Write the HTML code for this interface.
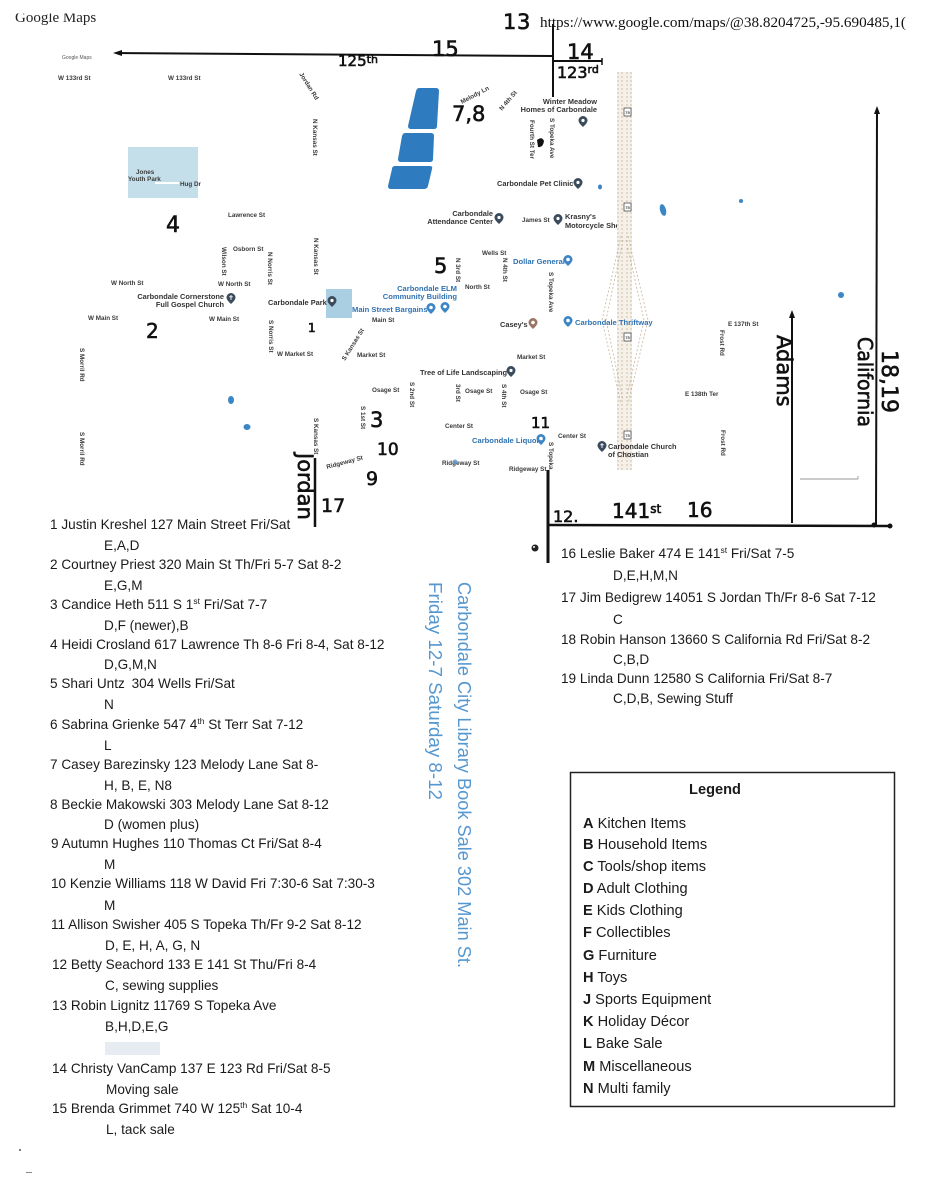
<!DOCTYPE html>
<html><head><meta charset="utf-8"><style>
html,body{margin:0;padding:0;background:#fff;}
svg{display:block;}
.m{font-family:"Liberation Sans",sans-serif;font-size:6.3px;font-weight:bold;fill:#3a3a3a;}
.p{font-family:"Liberation Sans",sans-serif;font-size:7.4px;font-weight:bold;fill:#333;}
.b{font-family:"Liberation Sans",sans-serif;font-size:7.6px;font-weight:bold;fill:#2f72b2;}
.hw{font-family:"DejaVu Sans",sans-serif;fill:#111;stroke:#111;stroke-width:0.6px;}
.l{font-family:"Liberation Sans",sans-serif;font-size:13.6px;fill:#1a1a1a;}
.g{font-family:"Liberation Sans",sans-serif;font-size:14.6px;fill:#1a1a1a;}
.v{font-family:"Liberation Sans",sans-serif;font-size:18.3px;fill:#5597cf;}
</style></head><body>
<svg width="927" height="1200" viewBox="0 0 927 1200" xmlns="http://www.w3.org/2000/svg">
<rect width="927" height="1200" fill="#fff"/>

<!-- header -->
<text x="15" y="22" font-family="Liberation Serif,serif" font-size="15" fill="#222">Google Maps</text>
<rect x="0" y="0" width="120" height="13.5" fill="#fff"/>
<text x="540" y="27" font-family="Liberation Serif,serif" font-size="15" fill="#111" textLength="366" lengthAdjust="spacingAndGlyphs">https://www.google.com/maps/@38.8204725,-95.690485,1(</text>
<text x="503" y="29" class="hw" font-size="21">1</text>
<text x="517" y="29" class="hw" font-size="21">3</text>

<!-- top lines -->
<line x1="116" y1="53" x2="553" y2="56" stroke="#111" stroke-width="2"/>
<polygon points="113,53 122,50 122,56" fill="#111"/>
<line x1="553" y1="24" x2="553" y2="97" stroke="#111" stroke-width="2"/>
<line x1="553" y1="61" x2="602" y2="61" stroke="#111" stroke-width="2"/>
<line x1="602" y1="58" x2="602" y2="65" stroke="#111" stroke-width="1.5"/>
<text x="432" y="56" class="hw" font-size="21">15</text>
<text x="338" y="66" class="hw" font-size="15">125<tspan font-size="11" dy="-3">th</tspan></text>
<text x="567" y="59" class="hw" font-size="21">14</text>
<text x="557" y="78" class="hw" font-size="16">123<tspan font-size="11" dy="-5">rd</tspan></text>

<!-- map labels left/top -->
<text x="62" y="59" font-family="Liberation Sans,sans-serif" font-size="5" fill="#555">Google Maps</text>
<text x="58" y="80" class="m">W 133rd St</text>
<text x="168" y="80" class="m">W 133rd St</text>
<text class="m" font-size="5.5" transform="translate(299,74) rotate(58)">Jordan Rd</text>
<text class="m" font-size="5.8" transform="translate(313,119) rotate(90)">N Kansas St</text>

<!-- blue shapes -->
<path d="M419,88 L436,88 Q439,88 439,91 L437,126 Q437,129 434,129 L411,129 Q408,129 408,126 L416,91 Q417,88 419,88Z" fill="#2f7bbf"/>
<path d="M405,133 L431,133 Q434,133 434,136 L433,159 Q433,162 430,162 L401,162 Q398,162 398,159 L402,136 Q403,133 405,133Z" fill="#2f7bbf"/>
<path d="M395,166 L430,166 Q433,166 432,169 L428,186 Q427,189 424,189 L391,189 Q388,189 388,186 L392,169 Q392,166 395,166Z" fill="#2f7bbf"/>

<!-- Jones Youth Park -->
<rect x="128" y="147" width="70" height="51" fill="#c4dfea"/>
<text x="136" y="174" class="m" font-size="6.8">Jones</text>
<text x="128" y="181" class="m" font-size="6.8">Youth Park</text>
<rect x="155" y="182" width="24" height="2" fill="#fff"/>
<text x="180" y="186" class="m" font-size="5.5">Hug Dr</text>

<text x="166" y="232" class="hw" font-size="22">4</text>
<text x="228" y="217" class="m">Lawrence St</text>
<text x="233" y="251" class="m">Osborn St</text>
<text class="m" font-size="5.8" transform="translate(222,247) rotate(90)">Wilson St</text>
<text class="m" font-size="5.8" transform="translate(268,252) rotate(90)">N Norris St</text>
<text class="m" font-size="5.8" transform="translate(314,238) rotate(90)">N Kansas St</text>
<text x="111" y="285" class="m">W North St</text>
<text x="218" y="286" class="m">W North St</text>
<text x="224" y="299" class="p" text-anchor="end">Carbondale Cornerstone</text>
<text x="224" y="307" class="p" text-anchor="end">Full Gospel Church</text>
<g transform="translate(231,298)"><path d="M0,6 Q-4.5,2 -4.5,-0.5 A4.5,4.5 0 1 1 4.5,-0.5 Q4.5,2 0,6Z" fill="#3a4b5c"/><path d="M0,-3 V2 M-1.8,-1.2 H1.8" stroke="#fff" stroke-width="0.9"/></g>
<text x="88" y="320" class="m">W Main St</text>
<text x="209" y="321" class="m">W Main St</text>
<text x="146" y="338" class="hw" font-size="20">2</text>
<text class="m" font-size="5.8" transform="translate(80,348) rotate(90)">S Morril Rd</text>
<text class="m" font-size="5.8" transform="translate(80,432) rotate(90)">S Morril Rd</text>
<ellipse cx="231" cy="400" rx="3" ry="4" fill="#3b86c4"/>
<ellipse cx="247" cy="427" rx="3.5" ry="3" fill="#3b86c4"/>

<!-- Carbondale park -->
<rect x="326" y="289" width="26" height="29" fill="#aacfe2"/>
<text x="268" y="305" class="p" font-size="7.6">Carbondale Park</text>
<g transform="translate(332,301)"><path d="M0,6 Q-4.5,2 -4.5,-0.5 A4.5,4.5 0 1 1 4.5,-0.5 Q4.5,2 0,6Z" fill="#3a4b5c"/><circle cy="-0.5" r="1.6" fill="#fff"/></g>
<text class="m" font-size="5.8" transform="translate(269,320) rotate(90)">S Norris St</text>
<text x="308" y="332" class="hw" font-size="12">1</text>
<text x="277" y="356" class="m">W Market St</text>
<text class="m" font-size="5.8" transform="translate(345,361) rotate(-58)">S Kansas St</text>
<text x="357" y="357" class="m">Market St</text>
<text x="372" y="322" class="m">Main St</text>

<text x="457" y="291" class="b" text-anchor="end">Carbondale ELM</text>
<text x="457" y="299" class="b" text-anchor="end">Community Building</text>
<text x="352" y="312" class="b">Main Street Bargains</text>
<g transform="translate(431,308)"><path d="M0,6 Q-4.5,2 -4.5,-0.5 A4.5,4.5 0 1 1 4.5,-0.5 Q4.5,2 0,6Z" fill="#3d86c6"/><circle cy="-0.5" r="1.8" fill="#fff"/></g>
<g transform="translate(445,307)"><path d="M0,6 Q-4.5,2 -4.5,-0.5 A4.5,4.5 0 1 1 4.5,-0.5 Q4.5,2 0,6Z" fill="#3d86c6"/><circle cy="-0.5" r="1.8" fill="#fff"/></g>

<text x="434" y="273" class="hw" font-size="21">5</text>
<text class="m" font-size="5.8" transform="translate(456,258) rotate(90)">N 3rd St</text>
<text x="482" y="255" class="m">Wells St</text>
<text class="m" font-size="5.8" transform="translate(503,258) rotate(90)">N 4th St</text>
<text x="465" y="289" class="m">North St</text>
<text x="513" y="264" class="b">Dollar General</text>
<g transform="translate(568,260)"><path d="M0,6 Q-4.5,2 -4.5,-0.5 A4.5,4.5 0 1 1 4.5,-0.5 Q4.5,2 0,6Z" fill="#3d86c6"/><circle cy="-0.5" r="1.8" fill="#fff"/></g>
<text class="m" font-size="5.8" transform="translate(549,272) rotate(90)">S Topeka Ave</text>
<text x="500" y="327" class="p" font-size="7.2">Casey's</text>
<g transform="translate(533,323)"><path d="M0,6 Q-4.5,2 -4.5,-0.5 A4.5,4.5 0 1 1 4.5,-0.5 Q4.5,2 0,6Z" fill="#9a7565"/><circle cy="-0.5" r="1.8" fill="#fff"/></g>

<!-- top right POIs -->
<text class="m" font-size="5.2" transform="translate(462,104) rotate(-28)">Melody Ln</text>
<text x="452" y="121" class="hw" font-size="21">7,8</text>
<text class="m" font-size="5.2" transform="translate(502,111) rotate(-50)">N 4th St</text>
<text x="597" y="104" class="p" text-anchor="end" font-size="7">Winter Meadow</text>
<text x="597" y="112" class="p" text-anchor="end" font-size="7">Homes of Carbondale</text>
<g transform="translate(583,121)"><path d="M0,6 Q-4.5,2 -4.5,-0.5 A4.5,4.5 0 1 1 4.5,-0.5 Q4.5,2 0,6Z" fill="#3a4b5c"/><circle cy="-0.5" r="1.6" fill="#fff"/></g>
<text class="m" font-size="5.6" transform="translate(550,118) rotate(90)">S Topeka Ave</text>
<text class="m" font-size="5.6" transform="translate(530,120) rotate(90)">Fourth St Ter</text>
<path d="M537,140 Q542,136 544,141 Q543,148 538,147 Z" fill="#111"/>
<text x="497" y="186" class="p" font-size="7">Carbondale Pet Clinic</text>
<g transform="translate(578,183)"><path d="M0,6 Q-4.5,2 -4.5,-0.5 A4.5,4.5 0 1 1 4.5,-0.5 Q4.5,2 0,6Z" fill="#3a4b5c"/><circle cy="-0.5" r="1.6" fill="#fff"/></g>
<ellipse cx="600" cy="187" rx="2" ry="2.5" fill="#3b86c4"/>
<ellipse cx="663" cy="210" rx="3" ry="6" fill="#3b86c4" transform="rotate(-15 663 210)"/>
<ellipse cx="741" cy="201" rx="2" ry="2" fill="#3b86c4"/>
<text x="493" y="216" class="p" text-anchor="end" font-size="7">Carbondale</text>
<text x="493" y="224" class="p" text-anchor="end" font-size="7">Attendance Center</text>
<g transform="translate(499,218)"><path d="M0,6 Q-4.5,2 -4.5,-0.5 A4.5,4.5 0 1 1 4.5,-0.5 Q4.5,2 0,6Z" fill="#3a4b5c"/><circle cy="-0.5" r="1.6" fill="#fff"/></g>
<text x="522" y="222" class="m" font-size="6">James St</text>
<g transform="translate(558,219)"><path d="M0,6 Q-4.5,2 -4.5,-0.5 A4.5,4.5 0 1 1 4.5,-0.5 Q4.5,2 0,6Z" fill="#3a4b5c"/><circle cy="-0.5" r="1.6" fill="#fff"/></g>
<text x="565" y="219" class="p" font-size="7">Krasny's</text>
<text x="565" y="228" class="p" font-size="7">Motorcycle Shop</text>

<!-- highway -->
<rect x="617" y="72" width="15" height="398" fill="#f5f0e8"/>
<g stroke="#c7b59e" stroke-width="0.8" stroke-dasharray="2,2" fill="none">
<line x1="618" y1="72" x2="618" y2="470"/><line x1="622" y1="72" x2="622" y2="470"/>
<line x1="627" y1="72" x2="627" y2="470"/><line x1="631" y1="72" x2="631" y2="470"/>
<polyline points="621,236 602,320 621,404"/><polyline points="623,240 606,320 623,400"/>
<polyline points="628,236 648,320 628,404"/><polyline points="626,240 644,320 626,400"/>
</g>
<g font-family="Liberation Sans,sans-serif" font-size="4" font-weight="bold" fill="#333" text-anchor="middle">
<rect x="624" y="108" width="7" height="8" fill="#fff" stroke="#333" stroke-width="0.7"/><text x="627.5" y="114">75</text>
<rect x="624" y="203" width="7" height="8" fill="#fff" stroke="#333" stroke-width="0.7"/><text x="627.5" y="209">75</text>
<rect x="624" y="333" width="7" height="8" fill="#fff" stroke="#333" stroke-width="0.7"/><text x="627.5" y="339">75</text>
<rect x="624" y="431" width="7" height="8" fill="#fff" stroke="#333" stroke-width="0.7"/><text x="627.5" y="437">75</text>
</g>
<g transform="translate(568,321)"><path d="M0,6 Q-4.5,2 -4.5,-0.5 A4.5,4.5 0 1 1 4.5,-0.5 Q4.5,2 0,6Z" fill="#3d86c6"/><circle cy="-0.5" r="1.8" fill="#fff"/></g>
<text x="575" y="325" class="b">Carbondale Thriftway</text>

<text x="728" y="326" class="m">E 137th St</text>
<text class="m" font-size="5.8" transform="translate(720,330) rotate(90)">Frost Rd</text>
<text x="517" y="359" class="m">Market St</text>
<text x="420" y="375" class="p" font-size="7.2">Tree of Life Landscaping</text>
<g transform="translate(511,371)"><path d="M0,6 Q-4.5,2 -4.5,-0.5 A4.5,4.5 0 1 1 4.5,-0.5 Q4.5,2 0,6Z" fill="#3a4b5c"/><circle cy="-0.5" r="1.6" fill="#fff"/></g>
<text x="372" y="392" class="m">Osage St</text>
<text class="m" font-size="5.8" transform="translate(410,382) rotate(90)">S 2nd St</text>
<text class="m" font-size="5.8" transform="translate(456,384) rotate(90)">3rd St</text>
<text x="465" y="393" class="m">Osage St</text>
<text class="m" font-size="5.8" transform="translate(502,384) rotate(90)">S 4th St</text>
<text x="520" y="394" class="m">Osage St</text>
<text x="685" y="396" class="m">E 138th Ter</text>
<text class="m" font-size="5.8" transform="translate(361,406) rotate(90)">S 1st St</text>
<text x="370" y="427" class="hw" font-size="21">3</text>
<text class="m" font-size="5.8" transform="translate(314,418) rotate(90)">S Kansas St</text>
<text x="445" y="428" class="m">Center St</text>
<text x="531" y="428" class="hw" font-size="15">11</text>
<text x="472" y="443" class="b">Carbondale Liquor</text>
<g transform="translate(541,439)"><path d="M0,6 Q-4.5,2 -4.5,-0.5 A4.5,4.5 0 1 1 4.5,-0.5 Q4.5,2 0,6Z" fill="#3d86c6"/><circle cy="-0.5" r="1.8" fill="#fff"/></g>
<text x="558" y="438" class="m">Center St</text>
<text class="m" font-size="5.8" transform="translate(549,442) rotate(90)">S Topeka</text>
<g transform="translate(602,446)"><path d="M0,6 Q-4.5,2 -4.5,-0.5 A4.5,4.5 0 1 1 4.5,-0.5 Q4.5,2 0,6Z" fill="#3a4b5c"/><path d="M0,-3 V2 M-1.8,-1.2 H1.8" stroke="#fff" stroke-width="0.9"/></g>
<text x="608" y="449" class="p" font-size="7">Carbondale Church</text>
<text x="608" y="457" class="p" font-size="7">of Chostian</text>
<text class="m" font-size="5.8" transform="translate(721,430) rotate(90)">Frost Rd</text>
<text x="377" y="455" class="hw" font-size="17">10</text>
<text x="442" y="465" class="m">Ridgeway St</text>
<circle cx="455" cy="462" r="2.5" fill="#5a93c4" opacity="0.8"/>
<text x="509" y="471" class="m">Ridgeway St</text>
<text class="m" font-size="5.6" transform="translate(327,469) rotate(-15)">Ridgeway St</text>
<text x="366" y="485" class="hw" font-size="19">9</text>
<ellipse cx="841" cy="295" rx="3" ry="3" fill="#3b86c4"/>
<line x1="800" y1="479" x2="858" y2="479" stroke="#777" stroke-width="0.7"/>
<line x1="858" y1="476" x2="858" y2="479" stroke="#777" stroke-width="0.7"/>

<!-- hand-drawn roads right/bottom -->
<line x1="315" y1="458" x2="315" y2="527" stroke="#111" stroke-width="2.5"/>
<text class="hw" font-size="21" transform="translate(298,453) rotate(90)">Jordan</text>
<text x="321" y="512" class="hw" font-size="19">17</text>

<line x1="792" y1="314" x2="792" y2="523" stroke="#111" stroke-width="2"/>
<polygon points="792,310 789,318 795,318" fill="#111"/>
<text class="hw" font-size="21" transform="translate(777,335) rotate(90)">Adams</text>
<line x1="877" y1="110" x2="876" y2="525" stroke="#111" stroke-width="2"/>
<polygon points="877,106 874,114 880,114" fill="#111"/>
<text class="hw" font-size="20" transform="translate(858,337) rotate(90)" textLength="90" lengthAdjust="spacingAndGlyphs">California</text>
<text class="hw" font-size="22" transform="translate(882,350) rotate(90)">18,19</text>

<line x1="547" y1="525" x2="890" y2="526" stroke="#111" stroke-width="2.5"/>
<circle cx="874" cy="525" r="2.5" fill="#111"/>
<circle cx="890" cy="526" r="2.5" fill="#111"/>
<line x1="548" y1="470" x2="548" y2="563" stroke="#111" stroke-width="3"/>
<circle cx="535" cy="548" r="3.5" fill="#222"/>
<circle cx="534" cy="547" r="1" fill="#fff"/>
<text x="553" y="522" class="hw" font-size="16">12.</text>
<text x="612" y="518" class="hw" font-size="20">141<tspan font-size="12" dy="-5">st</tspan></text>
<text x="687" y="517" class="hw" font-size="20">16</text>

<!-- left list -->
<text class="l" x="50" y="529">1 Justin Kreshel 127 Main Street Fri/Sat</text>
<text class="l" x="104" y="550">E,A,D</text>
<text class="l" x="50" y="569">2 Courtney Priest 320 Main St Th/Fri 5-7 Sat 8-2</text>
<text class="l" x="104" y="590">E,G,M</text>
<text class="l" x="50" y="609">3 Candice Heth 511 S 1<tspan font-size="8.5" dy="-5">st</tspan><tspan dy="5"> Fri/Sat 7-7</tspan></text>
<text class="l" x="104" y="630">D,F (newer),B</text>
<text class="l" x="50" y="649">4 Heidi Crosland 617 Lawrence Th 8-6 Fri 8-4, Sat 8-12</text>
<text class="l" x="104" y="669">D,G,M,N</text>
<text class="l" x="50" y="688">5 Shari Untz <tspan dx="3">304 Wells Fri/Sat</tspan></text>
<text class="l" x="104" y="709">N</text>
<text class="l" x="50" y="729">6 Sabrina Grienke 547 4<tspan font-size="8.5" dy="-5">th</tspan><tspan dy="5"> St Terr Sat 7-12</tspan></text>
<text class="l" x="104" y="750">L</text>
<text class="l" x="50" y="769">7 Casey Barezinsky 123 Melody Lane Sat 8-</text>
<text class="l" x="104" y="790">H, B, E, N8</text>
<text class="l" x="50" y="809">8 Beckie Makowski 303 Melody Lane Sat 8-12</text>
<text class="l" x="104" y="829">D (women plus)</text>
<text class="l" x="51" y="848">9 Autumn Hughes 110 Thomas Ct Fri/Sat 8-4</text>
<text class="l" x="104" y="869">M</text>
<text class="l" x="51" y="888">10 Kenzie Williams 118 W David Fri 7:30-6 Sat 7:30-3</text>
<text class="l" x="104" y="910">M</text>
<text class="l" x="51" y="929">11 Allison Swisher 405 S Topeka Th/Fr 9-2 Sat 8-12</text>
<text class="l" x="105" y="950">D, E, H, A, G, N</text>
<text class="l" x="52" y="969">12 Betty Seachord 133 E 141 St Thu/Fri 8-4</text>
<text class="l" x="105" y="990">C, sewing supplies</text>
<text class="l" x="52" y="1010">13 Robin Lignitz 11769 S Topeka Ave</text>
<text class="l" x="105" y="1031">B,H,D,E,G</text>
<rect x="105" y="1042" width="55" height="13" fill="#dde4ee" opacity="0.7"/>
<text class="l" x="52" y="1073">14 Christy VanCamp 137 E 123 Rd Fri/Sat 8-5</text>
<text class="l" x="106" y="1094">Moving sale</text>
<text class="l" x="52" y="1113">15 Brenda Grimmet 740 W 125<tspan font-size="8.5" dy="-5">th</tspan><tspan dy="5"> Sat 10-4</tspan></text>
<text class="l" x="106" y="1134">L, tack sale</text>
<circle cx="20" cy="1150" r="1" fill="#555"/>
<rect x="26" y="1172" width="6" height="1" fill="#888"/>

<!-- vertical blue text -->
<text class="v" transform="translate(458,582) rotate(90)" textLength="386" lengthAdjust="spacingAndGlyphs">Carbondale City Library Book Sale 302 Main St.</text>
<text class="v" transform="translate(429,582) rotate(90)" textLength="218" lengthAdjust="spacingAndGlyphs">Friday 12-7 Saturday 8-12</text>

<!-- right list -->
<text class="l" x="561" y="558">16 Leslie Baker 474 E 141<tspan font-size="8.5" dy="-5">st</tspan><tspan dy="5"> Fri/Sat 7-5</tspan></text>
<text class="l" x="613" y="580">D,E,H,M,N</text>
<text class="l" x="561" y="602">17 Jim Bedigrew 14051 S Jordan Th/Fr 8-6 Sat 7-12</text>
<text class="l" x="613" y="624">C</text>
<text class="l" x="561" y="644">18 Robin Hanson 13660 S California Rd Fri/Sat 8-2</text>
<text class="l" x="613" y="664">C,B,D</text>
<text class="l" x="561" y="683">19 Linda Dunn 12580 S California Fri/Sat 8-7</text>
<text class="l" x="613" y="703">C,D,B, Sewing Stuff</text>

<!-- legend -->
<rect x="570.5" y="772.5" width="324" height="334" fill="none" stroke="#222" stroke-width="1.5"/>
<text class="g" x="715" y="794" text-anchor="middle" font-weight="bold">Legend</text>
<text class="g" x="583" y="828"><tspan font-weight="bold">A</tspan> Kitchen Items</text>
<text class="g" x="583" y="849"><tspan font-weight="bold">B</tspan> Household Items</text>
<text class="g" x="583" y="871"><tspan font-weight="bold">C</tspan> Tools/shop items</text>
<text class="g" x="583" y="893"><tspan font-weight="bold">D</tspan> Adult Clothing</text>
<text class="g" x="583" y="915"><tspan font-weight="bold">E</tspan> Kids Clothing</text>
<text class="g" x="583" y="937"><tspan font-weight="bold">F</tspan> Collectibles</text>
<text class="g" x="583" y="960"><tspan font-weight="bold">G</tspan> Furniture</text>
<text class="g" x="583" y="982"><tspan font-weight="bold">H</tspan> Toys</text>
<text class="g" x="583" y="1004"><tspan font-weight="bold">J</tspan> Sports Equipment</text>
<text class="g" x="583" y="1026"><tspan font-weight="bold">K</tspan> Holiday Décor</text>
<text class="g" x="583" y="1048"><tspan font-weight="bold">L</tspan> Bake Sale</text>
<text class="g" x="583" y="1071"><tspan font-weight="bold">M</tspan> Miscellaneous</text>
<text class="g" x="583" y="1093"><tspan font-weight="bold">N</tspan> Multi family</text>
</svg>
</body></html>
